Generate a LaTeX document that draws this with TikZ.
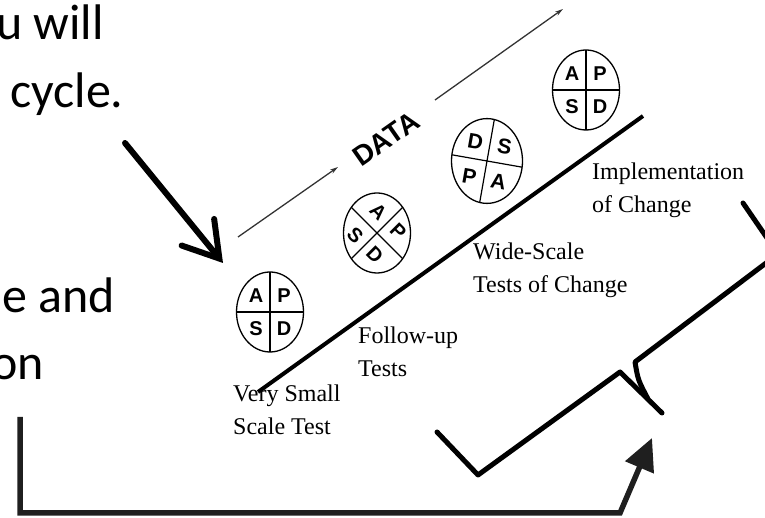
\documentclass[tikz,border=0pt]{standalone}
\usepackage{fontspec}
\setmainfont{Liberation Serif}
\newfontfamily\slidefont{Carlito}
\newfontfamily\letterfont{Liberation Sans}
\usetikzlibrary{arrows.meta, shapes.geometric}

\begin{document}
\begin{tikzpicture}[x=1pt, y=1pt,
		slide/.style={font=\slidefont\fontsize{50}{60}\selectfont,
			inner sep=0pt, anchor=base west},
		stage/.style={font=\fontsize{24}{33}\selectfont, align=left,
			inner sep=0pt, anchor=base west},
		ltr/.style={font=\letterfont\bfseries\fontsize{20}{20}\selectfont,
			inner sep=0pt, transform shape},
		thinarr/.style={-{Stealth[length=8pt, width=4.5pt]}, line width=1.3pt, black!80},
		heavy/.style={line width=5pt, line join=round, line cap=round},
		pics/pdsa/.style n args={5}{code={
				\begin{scope}
					\clip (0,0) ellipse [x radius=33.5, y radius=40];
					\draw[line width=1.2pt, rotate=#1] (-60,0) -- (60,0) (0,-60) -- (0,60);
				\end{scope}
				\draw[line width=1.3pt] (0,0) ellipse [x radius=33.5, y radius=40];
				\begin{scope}[rotate=#1]
					\node[ltr] at (-14,16) {#2};
					\node[ltr] at (14,16) {#3};
					\node[ltr] at (-14,-17) {#4};
					\node[ltr] at (14,-17) {#5};
				\end{scope}
		}},
		]
		\useasboundingbox (0,0) rectangle (765,518);
		\clip (0,0) rectangle (765,518);

		% --- slide text (cut off at the left) ---
		\node[slide] (will) at (-4,478) {u will};
		\node[slide] (cycle) at (10,410) {cycle.};
		\node[slide] (eand) at (2,205) {e and};
		\node[slide] (on) at (-9,138) {on};

		% --- PDSA ramps ---
		\pic (c1) at (270,206) {pdsa={0}{A}{P}{S}{D}};
		\pic (c2) at (377,285) {pdsa={-45}{A}{P}{S}{D}};
		\pic[scale=1.06] (c3) at (487,357) {pdsa={-10}{D}{S}{P}{A}};
		\pic (c4) at (586,428) {pdsa={0}{A}{P}{S}{D}};

		% --- stage labels (placed by their last line) ---
		\node[stage] (small) at (233,83) {Very Small\\Scale Test};
		\node[stage] (follow) at (358,141) {Follow-up\\Tests};
		\node[stage] (wide) at (473,225) {Wide-Scale\\Tests of Change};
		\node[stage] (impl) at (592,305) {Implementation\\of Change};

		% --- ramp line and data arrow ---
		\coordinate (rampS) at (258,126);
		\coordinate (rampE) at (643,402);
		\draw[line width=4pt] (rampS) -- (rampE);

		\node[rotate=35, inner sep=0pt,
		font=\letterfont\bfseries\fontsize{28}{28}\selectfont] (data) at (386,379) {DATA};
		\coordinate (dataA) at (238,281);
		\coordinate (dataE) at (338,351);
		\coordinate (dataB) at (435,418);
		\coordinate (dataC) at (563,509);
		\draw[thinarr] (dataA) -- (dataE);
		\draw[thinarr] (dataB) -- (dataC);

		% --- pointer from the slide text ---
		\coordinate (ptrS) at (125,375);
		\coordinate (ptrE) at (223,255);
		\draw[line width=6pt, line cap=round,
		-{Straight Barb[length=34pt, width=42pt, line cap=round]}] (ptrS) -- (ptrE);

		% --- brace ---
		\coordinate (brA) at (437,86);
		\coordinate (brB) at (478,43);
		\coordinate (brC) at (620,146);
		\coordinate (brTip) at (662,105);
		\coordinate (brD) at (635,156);
		\coordinate (brE) at (778,264);
		\coordinate (brF) at (743,315);
		\draw[heavy] (brA) -- (brB) -- (brC) -- (brTip);
		\draw[heavy] (brF) -- (brE) -- (brD) .. controls (638,138) .. (648,119);

		% --- return arrow ---
		\coordinate (retS) at (20,101);
		\coordinate (retA) at (20,5);
		\coordinate (retB) at (620,5);
		\coordinate (retE) at (652,80);
		\draw[line width=5.5pt, black!88, line join=miter,
		-{Triangle[length=32pt, width=30pt]}] (retS) -- (retA) -- (retB) -- (retE);
	\end{tikzpicture}
\end{document}
